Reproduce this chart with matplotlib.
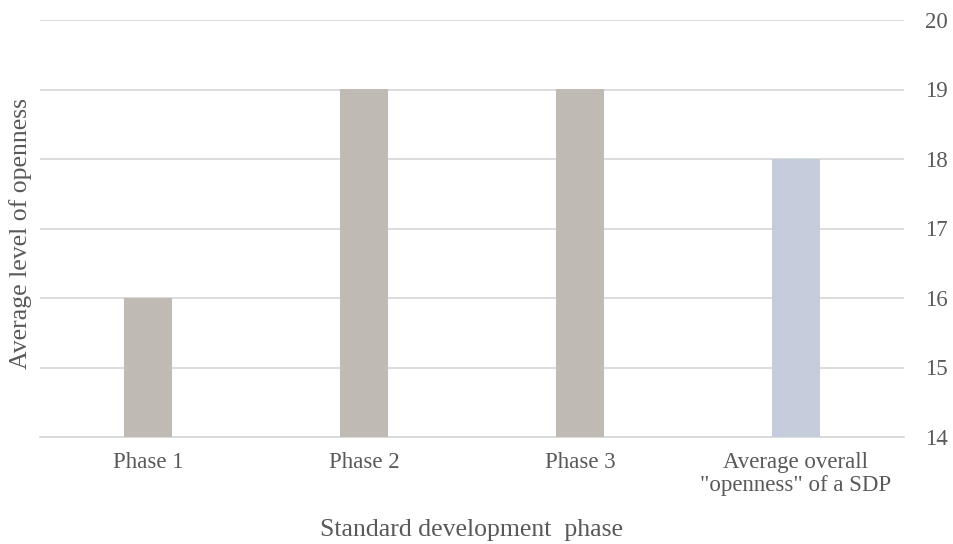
import matplotlib
matplotlib.use("Agg")
import matplotlib.pyplot as plt

categories = ["Phase 1", "Phase 2", "Phase 3", "Average overall\n\"openness\" of a SDP"]
values = [16, 19, 19, 18]
bar_colors = ["#BFBAB4", "#BFBAB4", "#BFBAB4", "#C5CCDC"]
y_ticks = [14, 15, 16, 17, 18, 19, 20]

plt.rcParams["font.family"] = ["Liberation Serif", "DejaVu Serif"]
text_color = "#595959"
grid_color = "#D9D9D9"

fig = plt.figure(figsize=(9.54, 5.44), dpi=100)
ax = fig.add_axes([40 / 954, 107 / 544, 864 / 954, 417 / 544])

x = list(range(len(categories)))
ax.bar(x, [v - 14 for v in values], bottom=14, width=0.222, color=bar_colors, zorder=3)

ax.set_xlim(-0.5, len(categories) - 0.5)
ax.set_ylim(14, 20)
ax.set_yticks(y_ticks)
ax.yaxis.tick_right()
ax.tick_params(axis="y", length=0, pad=15, labelsize=16.5, labelcolor=text_color)
ax.tick_params(axis="x", length=0, pad=11, labelsize=16.5, labelcolor=text_color)
ax.set_xticks(x)
ax.set_xticklabels(categories, linespacing=1.1)

ax.grid(axis="y", color=grid_color, linewidth=1.3, zorder=0)
for side in ["top", "left", "right"]:
    ax.spines[side].set_visible(False)
ax.spines["bottom"].set_color(grid_color)
ax.spines["bottom"].set_linewidth(1.3)

ax.set_xlabel("Standard development  phase", fontsize=18.5, color=text_color, labelpad=17)
ax.yaxis.set_label_position("left")
ax.set_ylabel("Average level of openness", fontsize=18.5, color=text_color)
ax.yaxis.set_label_coords(-0.0096, 0.489)

fig.savefig("out.png", dpi=100)
